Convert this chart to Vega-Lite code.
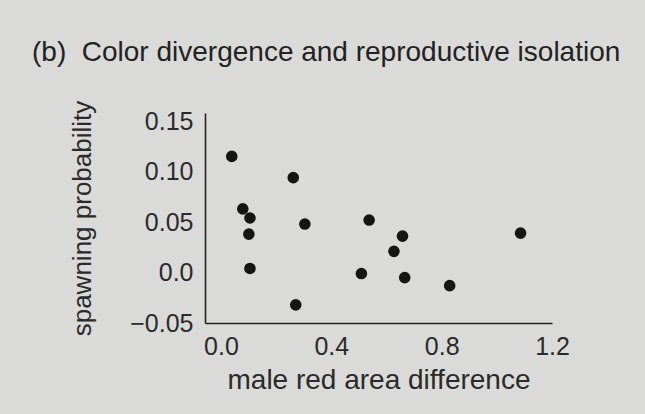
{
  "$schema": "https://vega.github.io/schema/vega-lite/v6.json",
  "autosize": {"type": "none"},
  "width": 347,
  "height": 210,
  "padding": {"left": 205, "top": 113, "right": 93, "bottom": 91},
  "background": "#dadad8",
  "title": {
    "text": "(b)\u00a0\u00a0Color divergence and reproductive isolation",
    "anchor": "start",
    "frame": "group",
    "dx": -173,
    "offset": 33,
    "font": "Liberation Sans",
    "fontSize": 28,
    "fontWeight": "normal",
    "color": "#222222"
  },
  "data": {
    "values": [
      {"x": 0.039, "y": 0.115},
      {"x": 0.262, "y": 0.094},
      {"x": 0.079, "y": 0.063},
      {"x": 0.105, "y": 0.054},
      {"x": 0.304, "y": 0.048},
      {"x": 0.537, "y": 0.052},
      {"x": 0.101, "y": 0.038},
      {"x": 0.105, "y": 0.004},
      {"x": 0.509, "y": -0.001},
      {"x": 0.271, "y": -0.032},
      {"x": 0.658, "y": 0.036},
      {"x": 0.627, "y": 0.021},
      {"x": 0.666, "y": -0.005},
      {"x": 0.829, "y": -0.013},
      {"x": 1.086, "y": 0.039}
    ]
  },
  "mark": {"type": "circle", "size": 135, "color": "#151515", "opacity": 1},
  "encoding": {
    "x": {
      "field": "x",
      "type": "quantitative",
      "scale": {"domain": [-0.058, 1.2], "nice": false, "zero": false},
      "axis": {
        "title": "male red area difference",
        "values": [0, 0.4, 0.8, 1.2],
        "format": ".1f",
        "grid": false,
        "ticks": false,
        "domainColor": "#222222",
        "domainWidth": 1.6,
        "labelFont": "Liberation Sans",
        "labelFontSize": 25,
        "labelColor": "#2a2a2a",
        "labelPadding": 11,
        "labelFlush": false,
        "labelOverlap": false,
        "titleFont": "Liberation Sans",
        "titleFontSize": 28,
        "titleFontWeight": "normal",
        "titleColor": "#2a2a2a",
        "titlePadding": 7
      }
    },
    "y": {
      "field": "y",
      "type": "quantitative",
      "scale": {"domain": [-0.05, 0.158], "nice": false, "zero": false},
      "axis": {
        "title": "spawning probability",
        "values": [-0.05, 0, 0.05, 0.1, 0.15],
        "labelExpr": "datum.value == 0 ? '0.0' : datum.value == 0.1 ? '0.10' : datum.value == 0.15 ? '0.15' : datum.value == 0.05 ? '0.05' : '\u22120.05'",
        "grid": false,
        "ticks": false,
        "domainColor": "#222222",
        "domainWidth": 1.6,
        "labelFont": "Liberation Sans",
        "labelFontSize": 25,
        "labelColor": "#2a2a2a",
        "labelPadding": 12,
        "labelFlush": false,
        "labelOverlap": false,
        "titleFont": "Liberation Sans",
        "titleFontSize": 26,
        "titleFontWeight": "normal",
        "titleColor": "#2a2a2a",
        "titlePadding": 34
      }
    }
  },
  "config": {"view": {"stroke": null}}
}
